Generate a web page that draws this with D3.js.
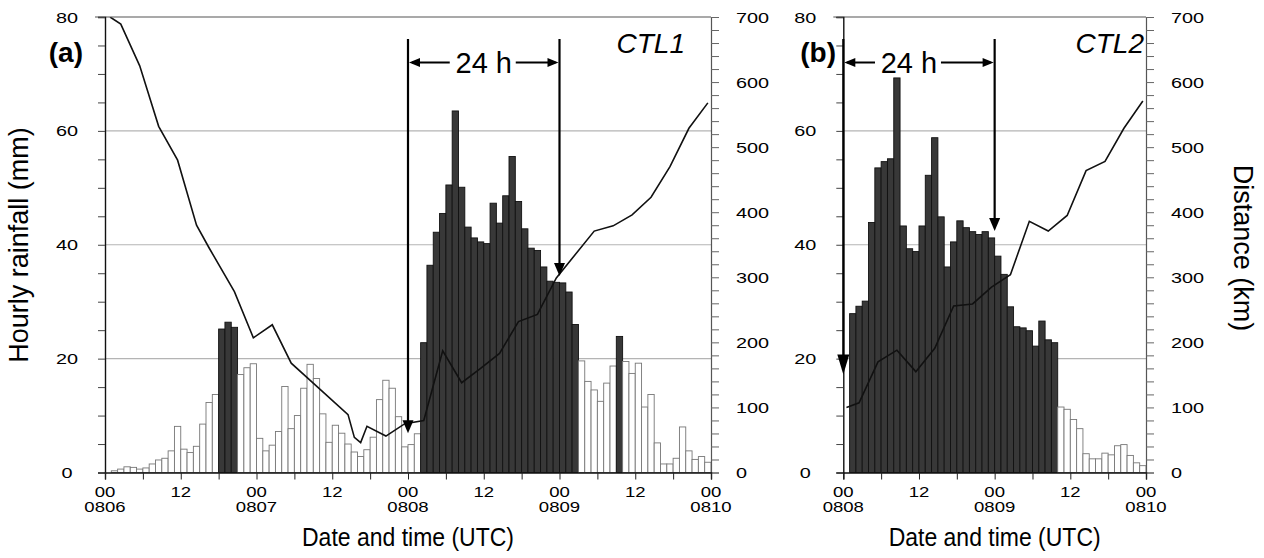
<!DOCTYPE html>
<html>
<head>
<meta charset="utf-8">
<script src="https://cdn.jsdelivr.net/npm/d3@7.9.0/dist/d3.min.js"></script>
<style>
  body { margin: 0; background: #fff; }
  svg { display: block; font-family: "Liberation Sans", Arial, sans-serif; }
</style>
</head>
<body>
<svg id="chart" width="1264" height="558"></svg>
<script>
// hourly rainfall (mm), first value is hour 1
const rainA = [0.3, 0.6, 1.0, 0.9, 0.6, 0.8, 1.5, 2.2, 2.5, 3.8,
  8.1, 4.1, 3.5, 4.6, 8.5, 12.3, 13.7, 25.2, 26.4, 25.5,
  17.2, 18.4, 19.1, 6.0, 3.8, 4.8, 7.2, 15.1, 7.7, 10.0,
  14.8, 19.0, 16.5, 10.3, 5.3, 8.3, 6.9, 5.0, 3.6, 2.8,
  4.0, 6.2, 12.8, 16.2, 14.8, 9.8, 4.5, 4.9, 6.8, 22.8,
  36.4, 42.2, 45.5, 50.5, 63.5, 50.1, 43.1, 41.2, 40.5, 40.2,
  47.3, 43.8, 48.6, 55.5, 47.6, 42.8, 39.4, 39.0, 36.1, 33.6,
  33.4, 33.3, 31.7, 26.0, 19.6, 16.0, 14.5, 12.5, 15.7, 18.7,
  23.9, 19.5, 17.4, 19.2, 11.5, 13.7, 5.2, 1.5, 1.5, 2.5,
  8.0, 3.8, 2.3, 2.8, 1.8];
const rainB = [27.9, 29.2, 30.1, 43.9, 53.5, 54.6, 55.1, 69.3, 43.3, 39.3,
  38.8, 43.3, 52.2, 58.8, 44.9, 36.1, 40.5, 44.2, 43.0, 42.3,
  41.8, 42.3, 41.2, 38.0, 34.8, 29.1, 25.6, 25.4, 24.9, 22.2,
  26.6, 23.3, 22.8, 11.5, 11.1, 9.3, 7.7, 3.3, 2.4, 2.4,
  3.4, 3.1, 4.7, 4.9, 3.0, 1.7, 1.2];

// distance (km) line, hours since start of each panel
const distHoursA = [0.8, 2.5, 5.5, 8.5, 11.5, 14.5, 16.5, 20.5, 23.5, 26.5, 29.5, 38.5, 39.5, 40.5,
  41.5, 44.5, 47.5, 50.5, 53.5, 56.5, 59.5, 62.5, 65.5, 68.5, 71.5, 77.5, 80.5, 83.5, 86.5, 89.5, 92.5, 95.5];
const distA = [700, 689, 625, 532, 480, 380, 345, 278, 207, 227, 168, 89, 54, 46,
  71, 56, 75, 80, 187, 138, 160, 183, 232, 243, 299, 371, 379, 396, 423, 470, 529, 568];
const distHoursB = [0.5, 2.5, 5.5, 8.5, 11.5, 14.5, 17.5, 20.5, 23.5, 26.5, 29.5, 32.5, 35.5, 38.5, 41.5, 44.5, 47.5];
const distB = [100, 107, 170, 188, 155, 191, 256, 259, 285, 304, 386, 371, 395, 464, 478, 529, 571];

const daysA = ['0806', '0807', '0808', '0809', '0810'];
const daysB = ['0808', '0809', '0810'];
const rainTicks = [0, 20, 40, 60, 80];
const distTicks = [0, 100, 200, 300, 400, 500, 600, 700];
const heavy = 20; // bars at or above this are filled dark

const svg = d3.select('#chart');
const plotTop = 17, plotBottom = 472.5;
const wide = 1.28; // tick digits in the figure are drawn wide

function panel(cfg) {
  const x = d3.scaleLinear().domain([0, cfg.hours]).range([cfg.left, cfg.right]);
  const yR = d3.scaleLinear().domain([0, 80]).range([plotBottom, plotTop]);
  const yD = d3.scaleLinear().domain([0, 700]).range([plotBottom, plotTop]);
  const g = svg.append('g');

  // grid
  g.selectAll('.grid').data([20, 40, 60]).join('line')
    .attr('x1', cfg.left).attr('x2', cfg.right)
    .attr('y1', d => yR(d)).attr('y2', d => yR(d))
    .attr('stroke', '#b4b4b4').attr('stroke-width', 1.2);

  // bars
  g.selectAll('.bar').data(cfg.rain).join('rect')
    .attr('x', (d, i) => x(i + 1))
    .attr('width', (d, i) => x(i + 2) - x(i + 1))
    .attr('y', d => yR(d))
    .attr('height', d => yR(0) - yR(d))
    .attr('fill', d => d >= heavy ? '#383838' : '#fff')
    .attr('stroke', d => d >= heavy ? '#111' : '#777')
    .attr('stroke-width', 0.9);

  // distance line, clipped to plot
  const clipId = 'clip' + cfg.name;
  svg.append('clipPath').attr('id', clipId).append('rect')
    .attr('x', cfg.left).attr('y', plotTop).attr('width', cfg.right - cfg.left).attr('height', plotBottom - plotTop);
  const line = d3.line().x(d => x(d[0])).y(d => yD(d[1]));
  g.append('path')
    .datum(d3.zip(cfg.distHours, cfg.dist))
    .attr('d', line)
    .attr('clip-path', `url(#${clipId})`)
    .attr('fill', 'none').attr('stroke', '#111').attr('stroke-width', 1.6);

  // frame line at top
  g.append('line').attr('x1', cfg.left - 10).attr('x2', cfg.right).attr('y1', plotTop).attr('y2', plotTop)
    .attr('stroke', '#555').attr('stroke-width', 1.2);

  // left axis
  const leftAxis = d3.axisLeft(yR).tickValues(d3.range(0, 81, 5)).tickSize(7).tickFormat('');
  g.append('g').attr('transform', `translate(${cfg.left},0)`).call(leftAxis)
    .call(a => a.select('.domain').attr('stroke', '#111').attr('stroke-width', 1.4))
    .call(a => a.selectAll('.tick line').attr('stroke', '#444'));
  g.selectAll('.rlab').data(rainTicks).join('text')
    .attr('transform', d => `translate(${cfg.left - 38},${yR(d) + 5.5}) scale(${wide},1)`)
    .attr('text-anchor', 'middle').attr('font-size', 15.5).text(d => d);

  // right axis
  const rightAxis = d3.axisRight(yD).tickValues(d3.range(0, 701, 20)).tickSize(8).tickFormat('');
  g.append('g').attr('transform', `translate(${cfg.right},0)`).call(rightAxis)
    .call(a => a.select('.domain').attr('stroke', '#555').attr('stroke-width', 1.2))
    .call(a => a.selectAll('.tick line').attr('stroke', '#666'));
  g.selectAll('.dlab').data(distTicks).join('text')
    .attr('transform', d => `translate(${cfg.right + 25},${yD(d) + 5.5}) scale(${wide},1)`)
    .attr('font-size', 15.5).text(d => d);

  // bottom axis
  const botAxis = d3.axisBottom(x).tickValues(d3.range(0, cfg.hours + 1, 6)).tickSize(7).tickFormat('');
  g.append('g').attr('transform', `translate(0,${plotBottom})`).call(botAxis)
    .call(a => a.select('.domain').attr('stroke', '#111').attr('stroke-width', 1.4))
    .call(a => a.selectAll('.tick line').attr('stroke', '#222'));
  const labs = g.selectAll('.xlab').data(d3.range(0, cfg.hours + 1, 12)).join('text')
    .attr('transform', d => `translate(${x(d)},0) scale(${wide},1)`)
    .attr('text-anchor', 'middle').attr('font-size', 14.5);
  labs.append('tspan').attr('x', 0).attr('y', plotBottom + 25)
    .text(d => d % 24 === 0 ? '00' : '12');
  labs.append('tspan').attr('x', 0).attr('y', plotBottom + 40)
    .text(d => d % 24 === 0 ? cfg.days[d / 24] : '');

  g.append('text').attr('x', (cfg.left + cfg.right) / 2).attr('y', 546)
    .attr('text-anchor', 'middle').attr('font-size', 26)
    .attr('textLength', 212).attr('lengthAdjust', 'spacingAndGlyphs')
    .text('Date and time (UTC)');

  // panel tag and run name
  g.append('text').attr('x', cfg.tagX).attr('y', 62).attr('text-anchor', 'end')
    .attr('font-size', 28).attr('font-weight', 'bold').text(cfg.tag);
  g.append('text').attr('x', cfg.nameX).attr('y', 53).attr('text-anchor', 'end')
    .attr('font-size', 28).attr('font-style', 'italic').text(cfg.name);

  // 24 h annotation
  const [h0, h1] = cfg.span;
  const ay = 62.5;
  const xa = x(h0), xb = x(h1);
  const head = (x0, y0, dx, dy, w, len) => {
    const bx = x0 - dx * len, by = y0 - dy * len;
    return `M${x0},${y0}L${bx - dy * w},${by + dx * w}L${bx + dy * w},${by - dx * w}Z`;
  };
  g.append('line').attr('x1', xa).attr('x2', xa).attr('y1', 39).attr('y2', yR(cfg.tips[0]) - 6)
    .attr('stroke', '#000').attr('stroke-width', 2.2);
  g.append('path').attr('d', head(xa, yR(cfg.tips[0]), 0, 1, cfg.headW, cfg.headL)).attr('fill', '#000');
  g.append('line').attr('x1', xb).attr('x2', xb).attr('y1', 39).attr('y2', yR(cfg.tips[1]) - 6)
    .attr('stroke', '#000').attr('stroke-width', 2.2);
  g.append('path').attr('d', head(xb, yR(cfg.tips[1]), 0, 1, 5.5, 13)).attr('fill', '#000');

  const mid = (xa + xb) / 2 + cfg.textShift;
  g.append('line').attr('x1', xa + 4).attr('x2', mid - 34).attr('y1', ay).attr('y2', ay)
    .attr('stroke', '#000').attr('stroke-width', 2);
  g.append('line').attr('x1', mid + 32).attr('x2', xb - 4).attr('y1', ay).attr('y2', ay)
    .attr('stroke', '#000').attr('stroke-width', 2);
  g.append('path').attr('d', head(xa + 1, ay, -1, 0, 4.5, 11)).attr('fill', '#000');
  g.append('path').attr('d', head(xb - 1, ay, 1, 0, 4.5, 11)).attr('fill', '#000');
  g.append('text').attr('x', mid).attr('y', ay + 10).attr('text-anchor', 'middle')
    .attr('font-size', 29).text('24 h');
}

panel({ name: 'CTL1', tag: '(a)', hours: 96, left: 105, right: 711, rain: rainA,
  distHours: distHoursA, dist: distA, days: daysA, span: [48, 72], tips: [6.9, 34.5],
  headW: 5.5, headL: 13, textShift: 0, tagX: 83, nameX: 685 });
panel({ name: 'CTL2', tag: '(b)', hours: 48, left: 843.3, right: 1146, rain: rainB,
  distHours: distHoursB, dist: distB, days: daysB, span: [0, 24], tips: [17.2, 42.4],
  headW: 6, headL: 20, textShift: -10, tagX: 836, nameX: 1144 });

// axis titles
svg.append('text').attr('transform', 'translate(28,245) rotate(-90)')
  .attr('text-anchor', 'middle').attr('font-size', 27).text('Hourly rainfall (mm)');
svg.append('text').attr('transform', 'translate(1234,248) rotate(90)')
  .attr('text-anchor', 'middle').attr('font-size', 27).text('Distance (km)');
</script>
</body>
</html>
